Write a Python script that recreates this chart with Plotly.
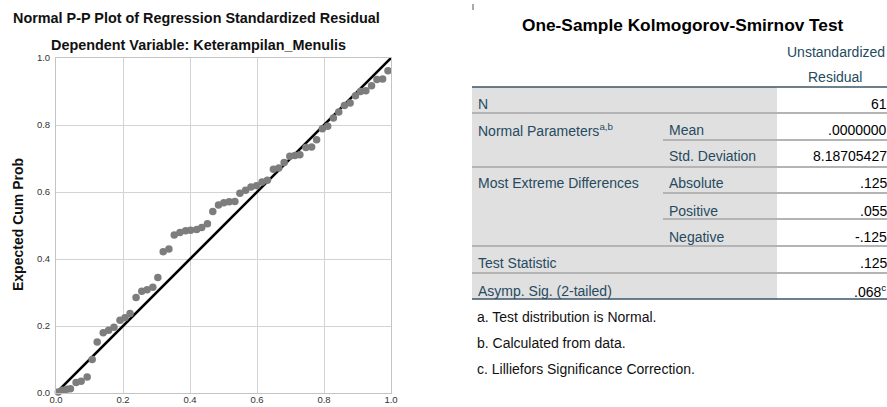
import plotly.graph_objects as go

W, H = 887, 407

# ---------------- data ----------------
obs_cum_prob = [0.007, 0.02, 0.032, 0.043, 0.06, 0.075, 0.093, 0.108, 0.123, 0.141, 0.157, 0.173,
                0.191, 0.206, 0.221, 0.239, 0.256, 0.272, 0.289, 0.304, 0.32, 0.337, 0.353, 0.37,
                0.387, 0.402, 0.42, 0.435, 0.452, 0.468, 0.485, 0.501, 0.517, 0.534, 0.549, 0.566,
                0.582, 0.599, 0.615, 0.631, 0.649, 0.665, 0.681, 0.698, 0.713, 0.728, 0.746, 0.763,
                0.778, 0.795, 0.811, 0.828, 0.844, 0.861, 0.878, 0.894, 0.909, 0.925, 0.942, 0.958,
                0.975, 0.991]
exp_cum_prob = [0.003, 0.008, 0.011, 0.013, 0.031, 0.035, 0.048, 0.1, 0.152, 0.18, 0.187, 0.196,
                0.217, 0.225, 0.237, 0.285, 0.304, 0.308, 0.316, 0.345, 0.422, 0.43, 0.472, 0.479,
                0.484, 0.486, 0.488, 0.494, 0.505, 0.542, 0.561, 0.568, 0.571, 0.572, 0.596, 0.605,
                0.615, 0.619, 0.63, 0.635, 0.668, 0.672, 0.688, 0.707, 0.709, 0.711, 0.733, 0.734,
                0.756, 0.789, 0.796, 0.821, 0.839, 0.858, 0.866, 0.887, 0.9, 0.902, 0.917, 0.936,
                0.937, 0.962]
ref_line = [0.0, 1.0]
tick_vals = [0.0, 0.2, 0.4, 0.6, 0.8, 1.0]
tick_text = ["0.0", "0.2", "0.4", "0.6", "0.8", "1.0"]

table_title = "One-Sample Kolmogorov-Smirnov Test"
col_header = ["Unstandardized", "Residual"]
row_labels = ["N", "Normal Parameters<sup>a,b</sup>", "", "Most Extreme Differences", "", "",
              "Test Statistic", "Asymp. Sig. (2-tailed)"]
sub_labels = ["", "Mean", "Std. Deviation", "Absolute", "Positive", "Negative", "", ""]
values = ["61", ".0000000", "8.18705427", ".125", ".055", "-.125", ".125", ".068<sup>c</sup>"]
footnotes = ["a. Test distribution is Normal.", "b. Calculated from data.",
             "c. Lilliefors Significance Correction."]


def px(x):
    return x / W


def py(y):
    return 1 - y / H


FONT = "Liberation Sans, Arial, sans-serif"
LBL = "#264a60"

fig = go.Figure()
fig.add_trace(go.Scatter(x=ref_line, y=ref_line, mode="lines",
                         line=dict(color="black", width=2.6), hoverinfo="skip",
                         cliponaxis=False))
fig.add_trace(go.Scatter(x=obs_cum_prob, y=exp_cum_prob, mode="markers",
                         marker=dict(color="#7d7d7d", size=7.5, line=dict(width=0)),
                         cliponaxis=False))

axis_common = dict(range=[0, 1], tickvals=tick_vals, ticktext=tick_text, showgrid=True,
                   gridcolor="#d3d3d3", gridwidth=1, zeroline=False, showline=True,
                   linecolor="#c4c4c4", linewidth=1, mirror=True, ticks="",
                   automargin=False,
                   tickfont=dict(family=FONT, size=9.5, color="#333333"), fixedrange=True)

fig.update_layout(
    width=W, height=H, margin=dict(l=0, r=0, t=0, b=0, autoexpand=False),
    paper_bgcolor="white", plot_bgcolor="white", showlegend=False,
    xaxis=dict(domain=[px(56), px(391)], ticklabelstandoff=-2, **axis_common),
    yaxis=dict(domain=[py(393), py(58)], ticklabelstandoff=3, **axis_common),
    font=dict(family=FONT),
)

ann = []
ann.append(dict(x=px(196), y=py(18), text="Normal P-P Plot of Regression Standardized Residual",
                font=dict(size=14.4, color="#111111", family=FONT, weight="bold")))
ann.append(dict(x=px(198), y=py(45), text="Dependent Variable: Keterampilan_Menulis",
                font=dict(size=14.4, color="#111111", family=FONT, weight="bold")))
ann.append(dict(x=px(18), y=py(225), text="Expected Cum Prob", textangle=-90,
                font=dict(size=14, color="#111111", family=FONT, weight="bold")))

# ---------------- table ----------------
TL, GR, TR = 472, 777, 887
top, bottom = 87, 299
shapes = []
shapes.append(dict(type="rect", x0=px(TL), x1=px(GR), y0=py(bottom), y1=py(top),
                   fillcolor="#e0e0e0", line=dict(width=0), layer="below"))
full_lines = [113, 167, 246, 273]
part_lines = [140, 193, 219]
for yy in full_lines:
    shapes.append(dict(type="line", x0=px(TL), x1=px(TR), y0=py(yy), y1=py(yy),
                       line=dict(color="#b4b4b4", width=2)))
for yy in part_lines:
    shapes.append(dict(type="line", x0=px(663), x1=px(TR), y0=py(yy), y1=py(yy),
                       line=dict(color="#b4b4b4", width=2)))
for yy in [top, bottom]:
    shapes.append(dict(type="line", x0=px(TL), x1=px(TR), y0=py(yy), y1=py(yy),
                       line=dict(color="#3d5566", width=1.6)))
shapes.append(dict(type="line", x0=px(473), x1=px(473), y0=py(4), y1=py(10),
                   line=dict(color="#555555", width=1)))
for s in shapes:
    s.update(xref="paper", yref="paper")
fig.update_layout(shapes=shapes)

TFS = 14
ann.append(dict(x=px(683), y=py(25), text=table_title,
                font=dict(size=17.3, color="#000000", family=FONT, weight="bold")))
ann.append(dict(x=px(785), y=py(52), text=col_header[0], xanchor="left",
                font=dict(size=TFS, color=LBL, family=FONT)))
ann.append(dict(x=px(835), y=py(77), text=col_header[1],
                font=dict(size=TFS, color=LBL, family=FONT)))

row_y = [104, 130, 156, 183, 211, 237, 263, 291]
for i, yy in enumerate(row_y):
    if row_labels[i]:
        ann.append(dict(x=px(476), y=py(yy), text=row_labels[i], xanchor="left",
                        font=dict(size=TFS, color=LBL, family=FONT)))
    if sub_labels[i]:
        ann.append(dict(x=px(667), y=py(yy), text=sub_labels[i], xanchor="left",
                        font=dict(size=TFS, color=LBL, family=FONT)))
    xr = 888 if "sup" in values[i] else 889
    ann.append(dict(x=px(xr), y=py(yy), text=values[i], xanchor="right",
                    font=dict(size=TFS, color="#000000", family=FONT)))

foot_y = [317, 343, 369]
for t, yy in zip(footnotes, foot_y):
    ann.append(dict(x=px(475), y=py(yy), text=t, xanchor="left",
                    font=dict(size=14, color="#111111", family=FONT)))

for a in ann:
    a.setdefault("xanchor", "center")
    a.update(xref="paper", yref="paper", yanchor="middle", showarrow=False)
fig.update_layout(annotations=ann)

fig.write_html("out.html", config={"displayModeBar": False},
               post_script="document.body.style.margin='0';document.body.style.overflow='hidden';")
